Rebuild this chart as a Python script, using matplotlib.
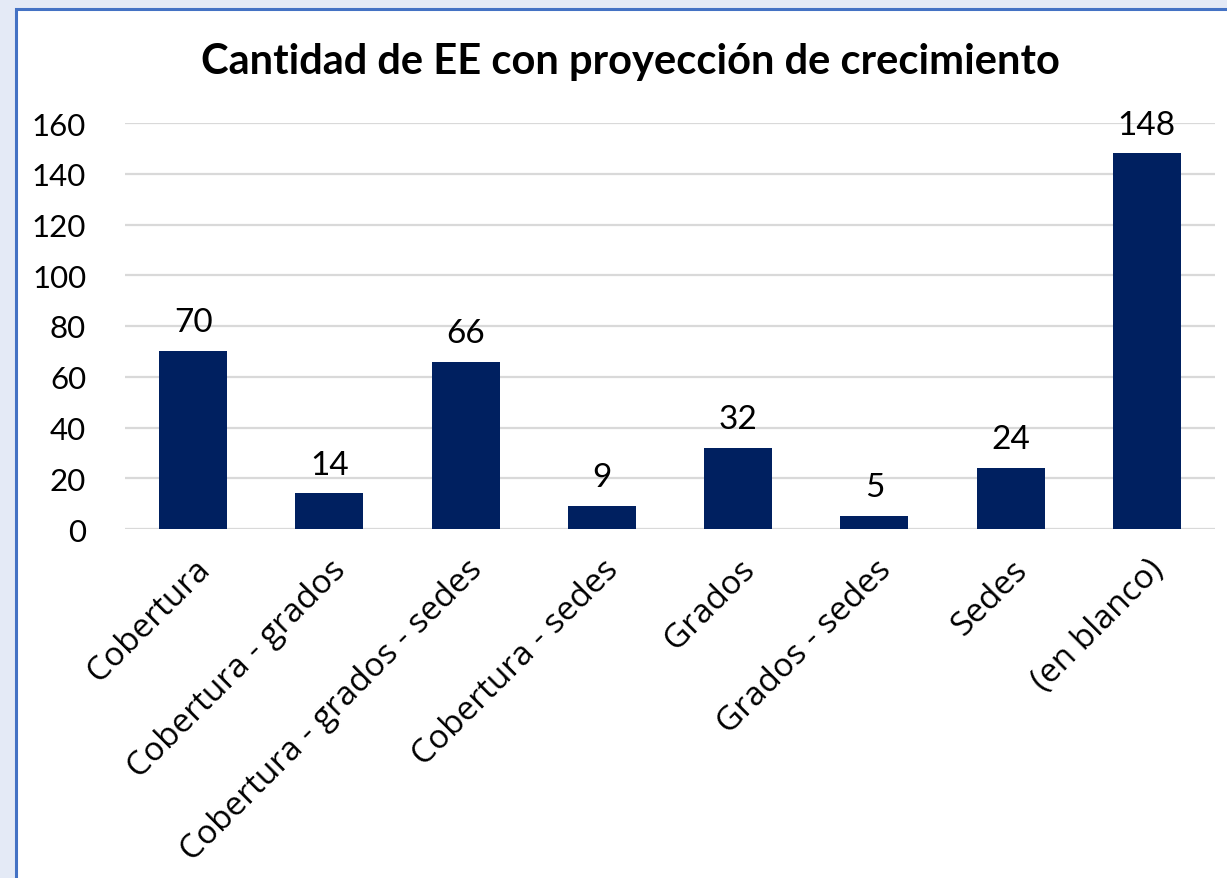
import matplotlib
matplotlib.use("Agg")
import matplotlib.pyplot as plt
from matplotlib.patches import Rectangle

categories = ["Cobertura", "Cobertura - grados", "Cobertura - grados - sedes",
              "Cobertura - sedes", "Grados", "Grados - sedes", "Sedes", "(en blanco)"]
values = [70, 14, 66, 9, 32, 5, 24, 148]
yticks = [0, 20, 40, 60, 80, 100, 120, 140, 160]
title = "Cantidad de EE con proyección de crecimiento"

plt.rcParams['font.family'] = ['Lato', 'DejaVu Sans']

W, H = 1227, 879
fig = plt.figure(figsize=(W / 100, H / 100), dpi=100)
fig.patch.set_facecolor("#E4EAF6")

# white panel with blue border (extends past right and bottom edges)
panel = Rectangle((16 / W, -0.05), (W + 30) / W, (H - 10) / H + 0.05, transform=fig.transFigure,
                  facecolor="white", edgecolor="#4472C4", linewidth=2.2, zorder=-10)
fig.patches.append(panel)

ax = fig.add_axes([125 / W, (H - 530) / H, (1215 - 125) / W, (530 - 124) / H])
ax.set_zorder(5)
ax.set_facecolor("none")
x = list(range(len(categories)))
bars = ax.bar(x, values, width=0.5, color="#002060", zorder=3)
ax.set_xlim(-0.5, len(categories) - 0.5)
ax.set_ylim(0, 160)
ax.set_yticks(yticks)
ax.set_yticklabels([str(t) for t in yticks], fontsize=22.5)
ax.grid(axis="y", color="#D9D9D9", linewidth=1.6, zorder=0)
for s in ax.spines.values():
    s.set_visible(False)
ax.tick_params(axis="both", length=0)
ax.tick_params(axis="y", pad=28)
ax.set_xticks(x)
ax.set_xticklabels(categories, rotation=45, ha="right", rotation_mode="anchor",
                   fontsize=24, family=["Open Sans", "DejaVu Sans"])
ax.tick_params(axis="x", pad=17)

for xi, v in zip(x, values):
    ax.annotate(str(v), (xi, v), xytext=(0, 10), textcoords="offset points",
                ha="center", va="bottom", fontsize=24)

fig.text(630 / W, 1 - 62 / H, title, ha="center", va="center", fontsize=30, fontweight="bold")

fig.savefig("out.png", dpi=100, facecolor=fig.get_facecolor())
